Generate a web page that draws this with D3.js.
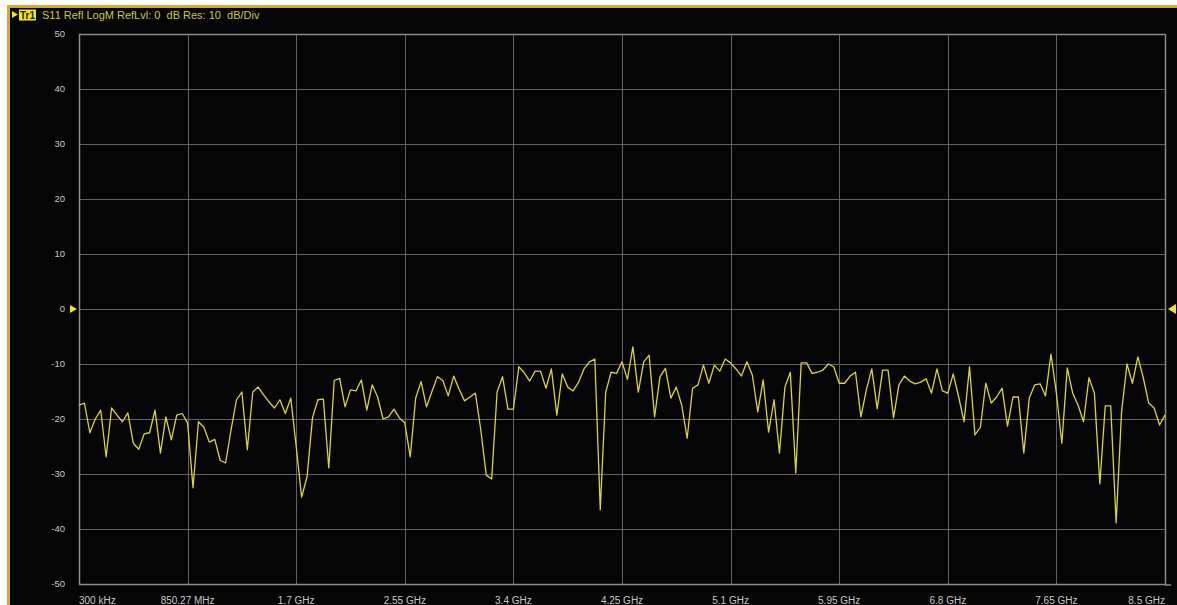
<!DOCTYPE html>
<html>
<head>
<meta charset="utf-8">
<script src="https://cdn.jsdelivr.net/npm/d3@7"></script>
<style>
  html, body { margin: 0; padding: 0; background: #ffffff; }
  svg { display: block; }
  text { font-family: "Liberation Sans", Arial, sans-serif; }
</style>
</head>
<body>
<svg id="chart" width="1177" height="605"></svg>
<script>
// ---- data ----
const headerTrace = "Tr1";
const headerText = "S11 Refl LogM RefLvl: 0  dB Res: 10  dB/Div";
const xTickLabels = ["300 kHz", "850.27 MHz", "1.7 GHz", "2.55 GHz", "3.4 GHz", "4.25 GHz",
                     "5.1 GHz", "5.95 GHz", "6.8 GHz", "7.65 GHz", "8.5 GHz"];
const yTickValues = [50, 40, 30, 20, 10, 0, -10, -20, -30, -40, -50];
const pointCount = 201;
const s11dB = [
  -17.5, -17.1, -22.5, -20, -18.4, -26.9, -18, -19.3, -20.5, -18.9,
  -24.4, -25.5, -22.7, -22.5, -18.4, -26.2, -19.6, -23.8, -19.3, -19,
  -20.7, -32.5, -20.5, -21.5, -24.2, -23.7, -27.5, -28, -22, -16.5,
  -15.1, -25.6, -15.1, -14.2, -15.6, -16.9, -18, -16.5, -19, -16.2,
  -25, -34.2, -30.5, -19.8, -16.5, -16.4, -28.9, -13, -12.6, -17.8,
  -14.7, -14.9, -12.9, -18.4, -13.8, -16, -20, -19.6, -18.2, -19.8,
  -20.7, -26.9, -16.2, -13.2, -17.8, -15, -12.3, -13, -15.8, -12.2,
  -14.6, -16.7, -16, -15.3, -22, -30.2, -30.9, -15.1, -12.3, -18.2,
  -18.2, -10.5, -11.6, -13.1, -11.3, -11.3, -14.4, -10.9, -19.3, -11.8,
  -14.2, -14.9, -13.3, -10.9, -9.6, -9.1, -36.5, -15.1, -11.5, -11.7,
  -9.6, -12.8, -6.9, -15.1, -9.6, -8.4, -19.6, -12.3, -10.8, -16.2,
  -14.2, -17.5, -23.5, -14.4, -13.8, -10.2, -13.5, -10.2, -11.3, -9.1,
  -9.8, -10.9, -12.2, -9.6, -12, -18.7, -12.9, -22.4, -16.5, -26.2,
  -14.2, -11.5, -29.8, -9.8, -9.8, -11.7, -11.5, -11.1, -10, -10.5,
  -13.5, -13.5, -12.2, -11.5, -19.6, -14.7, -10.9, -18.1, -11.1, -11.1,
  -19.8, -13.8, -12.2, -13.1, -13.6, -13.3, -12.7, -15.3, -10.9, -14.9,
  -15.3, -11.8, -16, -20.5, -10.5, -22.9, -21.5, -13.5, -17.1, -16,
  -14.4, -21.3, -16, -16, -26.2, -16.2, -13.8, -13.6, -15.8, -8.2,
  -15.3, -24.4, -10.7, -15.3, -17.5, -20.5, -12.5, -15.3, -31.8, -17.6,
  -17.6, -38.9, -18.7, -10, -13.5, -8.7, -12.5, -17.1, -18, -21.1,
  -19.3
];

// ---- layout ----
const W = 1177, H = 605;
const plot = { left: 79, right: 1165, top: 34, bottom: 584 };

const svg = d3.select("#chart");

// outer white + black panel with gold frame
svg.append("rect").attr("x", 0).attr("y", 0).attr("width", W).attr("height", H).attr("fill", "#ffffff");
svg.append("rect").attr("x", 8).attr("y", 6).attr("width", W - 8).attr("height", H - 6).attr("fill", "#050505");
svg.append("line").attr("x1", 7).attr("x2", W).attr("y1", 6.5).attr("y2", 6.5)
  .attr("stroke", "#d7a93a").attr("stroke-width", 3);
svg.append("line").attr("x1", 8.5).attr("x2", 8.5).attr("y1", 5).attr("y2", H)
  .attr("stroke", "#d7a93a").attr("stroke-width", 3);

const x = d3.scaleLinear().domain([0, pointCount - 1]).range([plot.left, plot.right]);
const y = d3.scaleLinear().domain([-50, 50]).range([plot.bottom, plot.top]);
const xDiv = d3.scaleLinear().domain([0, xTickLabels.length - 1]).range([plot.left, plot.right]);

// grid
const grid = svg.append("g");
grid.selectAll("line.h").data(yTickValues).enter().append("line")
  .attr("x1", plot.left).attr("x2", plot.right)
  .attr("y1", d => Math.round(y(d)) + 0.5).attr("y2", d => Math.round(y(d)) + 0.5)
  .attr("stroke", "#626262").attr("stroke-width", 1);
grid.selectAll("line.v").data(xTickLabels).enter().append("line")
  .attr("x1", (d, i) => Math.round(xDiv(i)) + 0.5).attr("x2", (d, i) => Math.round(xDiv(i)) + 0.5)
  .attr("y1", plot.top).attr("y2", plot.bottom)
  .attr("stroke", "#626262").attr("stroke-width", 1);

// frame
svg.append("rect").attr("x", plot.left + 0.5).attr("y", plot.top + 0.5)
  .attr("width", plot.right - plot.left).attr("height", plot.bottom - plot.top)
  .attr("fill", "none").attr("stroke", "#8c8c8c").attr("stroke-width", 1.5);
svg.append("line").attr("x1", plot.right).attr("x2", plot.right + 6)
  .attr("y1", plot.bottom + 1).attr("y2", plot.bottom + 1)
  .attr("stroke", "#8c8c8c").attr("stroke-width", 1.5);

// y labels
svg.append("g").selectAll("text").data(yTickValues).enter().append("text")
  .attr("x", 65).attr("y", d => y(d)).attr("dy", "0.35em")
  .attr("text-anchor", "end").attr("font-size", 9.5).attr("fill", "#c8c8c8")
  .text(d => d);

// x labels
svg.append("g").selectAll("text").data(xTickLabels).enter().append("text")
  .attr("x", (d, i) => xDiv(i))
  .attr("y", 600).attr("dy", "0.35em")
  .attr("text-anchor", (d, i) => i === 0 ? "start" : (i === xTickLabels.length - 1 ? "end" : "middle"))
  .attr("font-size", 10).attr("fill", "#c8c8c8")
  .text(d => d);

// reference level markers
const y0 = y(0);
svg.append("path").attr("d", `M70,${y0 - 4}L77,${y0}L70,${y0 + 4}Z`).attr("fill", "#f2e61a");
svg.append("path").attr("d", `M1176,${y0 - 5}L1168,${y0}L1176,${y0 + 5}Z`).attr("fill", "#f2e61a");

// header
svg.append("path").attr("d", "M12,11L18,14.5L12,18Z").attr("fill", "#f2e61a");
svg.append("rect").attr("x", 19).attr("y", 9.5).attr("width", 17).attr("height", 11).attr("fill", "#f2e61a");
svg.append("text").attr("x", 27.5).attr("y", 18.5).attr("text-anchor", "middle")
  .attr("font-size", 10).attr("font-weight", "bold").attr("fill", "#1a1a1a").text(headerTrace);
svg.append("text").attr("x", 42).attr("y", 18.5)
  .attr("font-size", 11).attr("fill", "#cfc64a").attr("xml:space", "preserve")
  .style("white-space", "pre").text(headerText);

// trace
const line = d3.line().x((d, i) => x(i)).y(d => y(d));
svg.append("path").datum(s11dB).attr("d", line)
  .attr("fill", "none").attr("stroke", "#dcd43a").attr("stroke-width", 1.3)
  .attr("stroke-linejoin", "round");
</script>
</body>
</html>
